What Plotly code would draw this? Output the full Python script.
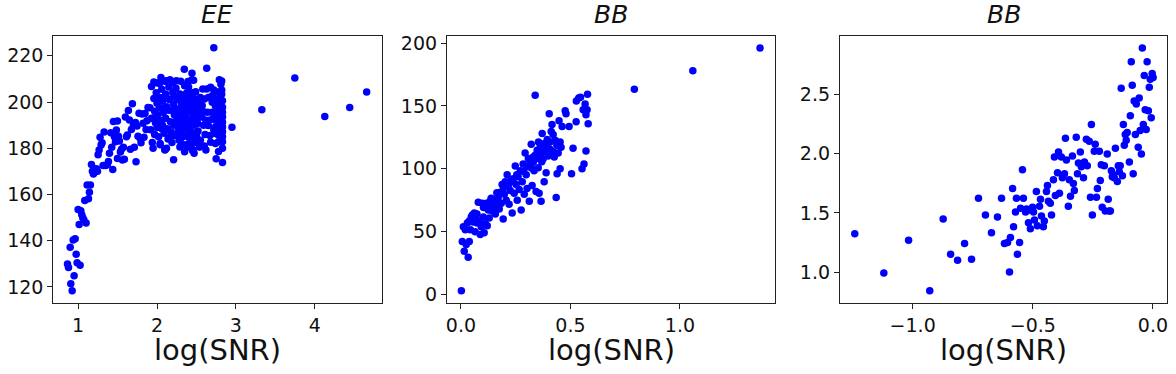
import plotly.graph_objects as go
from plotly.subplots import make_subplots

# ---- panel 1 (EE) : low-SNR branch + dense cluster + far outliers
ee_points = [
    (0.865, 129.9), (0.878, 128.4), (0.899, 137.2), (0.907, 121.4), (0.924, 118.4),
    (0.937, 140.3), (0.949, 124.8), (0.962, 140.9), (0.975, 134.2), (0.987, 130.5),
    (1.000, 153.5), (1.013, 147.0), (1.025, 129.4), (1.034, 153.0), (1.046, 151.2),
    (1.059, 149.9), (1.072, 149.1), (1.084, 157.4), (1.101, 147.7), (1.114, 164.1),
    (1.131, 158.2), (1.143, 161.0), (1.156, 164.1), (1.169, 173.0), (1.181, 170.1),
    (1.194, 168.9), (1.207, 171.1), (1.219, 169.8), (1.232, 171.1), (1.245, 170.1),
    (1.253, 177.2), (1.266, 179.3), (1.278, 184.8), (1.291, 181.4), (1.304, 182.4),
    (1.316, 172.6), (1.329, 187.0), (1.350, 172.6), (1.371, 173.0), (1.384, 174.3),
    (1.397, 177.9), (1.414, 186.7), (1.426, 180.4), (1.439, 170.8), (1.447, 191.6),
    (1.460, 185.0), (1.473, 182.8), (1.485, 187.9), (1.498, 191.8), (1.498, 175.6),
    (1.511, 185.2), (1.523, 183.1), (1.536, 178.4), (1.549, 179.6), (1.561, 174.9),
    (1.574, 180.4), (1.586, 175.3), (1.599, 193.5), (1.612, 185.0), (1.624, 185.7),
    (1.637, 196.3), (1.650, 192.2), (1.662, 179.6), (1.675, 188.1), (1.688, 199.3),
    (1.700, 189.9), (1.713, 180.4), (1.726, 191.1), (1.734, 174.2), (1.747, 189.6),
    (1.759, 185.2), (1.772, 195.2), (1.785, 184.3), (1.797, 182.4), (1.810, 194.8),
    (1.823, 190.8), (1.835, 184.8), (1.848, 195.0), (1.861, 188.1), (1.873, 191.9),
    (1.886, 197.6),
    (1.91, 197.5), (1.93, 193.0), (1.92, 188.0), (1.94, 182.5), (1.95, 180.0),
    (1.96, 201.5), (1.97, 196.0), (1.98, 191.0), (1.97, 186.0), (1.99, 204.0),
    (2.00, 199.5), (2.01, 194.5), (2.00, 189.0), (2.02, 185.0), (2.03, 208.0),
    (2.04, 202.0), (2.03, 197.5), (2.05, 192.0), (2.04, 181.5), (2.06, 205.5),
    (2.07, 200.5), (2.08, 195.5), (2.07, 190.0), (2.09, 186.5), (2.10, 179.5),
    (2.10, 209.0), (2.11, 203.5), (2.12, 198.0), (2.11, 193.0), (2.13, 188.5),
    (2.14, 184.0), (2.15, 206.5), (2.16, 201.0), (2.15, 196.5), (2.17, 191.5),
    (2.18, 187.0), (2.19, 182.5), (2.20, 208.5), (2.20, 204.0), (2.21, 199.0),
    (2.22, 194.5), (2.21, 190.0), (2.23, 185.5), (2.21, 175.0), (2.24, 206.0),
    (2.25, 201.5), (2.26, 197.0), (2.25, 192.5), (2.27, 188.0), (2.28, 183.5),
    (2.29, 180.5), (2.30, 209.0), (2.29, 203.5), (2.31, 199.5), (2.32, 195.0),
    (2.31, 190.5), (2.33, 186.0), (2.34, 181.5), (2.35, 178.5), (2.35, 207.0),
    (2.36, 202.0), (2.37, 198.0), (2.36, 193.5), (2.38, 189.0), (2.39, 185.0),
    (2.40, 182.0), (2.40, 206.5), (2.41, 200.5), (2.42, 196.0), (2.41, 191.5),
    (2.43, 187.0), (2.44, 183.0), (2.45, 179.0), (2.44, 209.5), (2.45, 204.0),
    (2.46, 199.0), (2.47, 194.5), (2.46, 190.0), (2.48, 186.0), (2.49, 182.5),
    (2.50, 197.0), (2.51, 191.5), (2.52, 187.5), (2.53, 183.5), (2.54, 180.5),
    (2.55, 202.0), (2.56, 195.0), (2.57, 198.5), (2.58, 205.7), (2.59, 190.0),
    (2.60, 201.3), (2.61, 186.0), (2.62, 179.3), (2.63, 214.6), (2.63, 205.7),
    (2.64, 195.6), (2.65, 189.9), (2.66, 192.1), (2.68, 206.4), (2.68, 182.6),
    (2.70, 202.7), (2.70, 199.9), (2.70, 195.6), (2.72, 223.5), (2.72, 205.2),
    (2.74, 201.3), (2.74, 198.4), (2.74, 195.6), (2.74, 192.1), (2.74, 189.2),
    (2.74, 186.4), (2.74, 182.1), (2.75, 175.5), (2.76, 204.4), (2.78, 199.9),
    (2.78, 197.0), (2.78, 194.2), (2.78, 191.3), (2.78, 188.5), (2.78, 185.7),
    (2.78, 182.8), (2.78, 178.6), (2.79, 209.6), (2.81, 207.7), (2.82, 209.1),
    (2.82, 205.2), (2.82, 203.4), (2.83, 200.6), (2.83, 197.7), (2.83, 195.6),
    (2.83, 193.5), (2.83, 191.3), (2.83, 189.2), (2.83, 187.1), (2.83, 185.0),
    (2.83, 182.8), (2.83, 180.0), (2.83, 173.8),
    (2.05, 210.6), (1.96, 208.7), (2.165, 209.6), (2.245, 209.2), (2.346, 214.2),
    (2.443, 212.5), (2.464, 209.4), (2.392, 208.9), (1.93, 206.7), (2.11, 209.2),
    (1.99, 208.4), (2.04, 182.1), (2.10, 179.3), (2.12, 180.0), (2.47, 177.9),
    (2.46, 179.3), (2.54, 180.7), (2.55, 183.5), (2.49, 197.0), (2.51, 187.1),
    (2.51, 190.6), (2.57, 193.5), (2.57, 198.4), (2.62, 192.1), (2.60, 181.0),
    (2.22, 202.5), (2.24, 196.0), (2.26, 190.5), (2.28, 201.0), (2.30, 193.0),
    (2.32, 188.0), (2.33, 203.0), (2.34, 197.0), (2.36, 185.5), (2.37, 195.5),
    (2.38, 200.0), (2.39, 191.0), (2.40, 197.5), (2.41, 188.0), (2.42, 184.5),
    (2.43, 203.0), (2.44, 193.0), (2.45, 186.5), (2.46, 196.5), (2.47, 201.5),
    (2.48, 190.5), (2.49, 204.5), (2.50, 185.5), (2.43, 199.0), (2.45, 191.0),
    (2.38, 204.0), (2.35, 191.0), (2.27, 194.0), (2.19, 196.5), (2.17, 185.0),
    (2.13, 201.5), (2.09, 197.5), (2.06, 188.5), (2.02, 200.0), (1.98, 193.5),
    (2.26, 186.0), (2.31, 184.5), (2.39, 180.5), (2.43, 181.0), (2.47, 184.0),
    (2.52, 194.0), (2.53, 199.5), (2.58, 196.0), (2.65, 202.0), (2.67, 185.5),
    (2.72, 188.0), (2.71, 193.0), (2.76, 196.5), (2.80, 202.0), (2.80, 190.0),
    (2.81, 184.0), (2.80, 194.5),
    (2.95, 189.1), (3.329, 196.7), (3.747, 210.4), (4.127, 193.8), (4.443, 197.6),
    (4.658, 204.4),
]

# ---- panel 2 (BB)
bb1_points = [
    (0.002, 3.1), (0.006, 42.2), (0.011, 53.9), (0.015, 34.4), (0.020, 51.6),
    (0.024, 39.8), (0.029, 57.0), (0.033, 29.7), (0.038, 42.2), (0.038, 58.6),
    (0.043, 51.6), (0.047, 61.7), (0.052, 63.3), (0.056, 57.8), (0.061, 64.8),
    (0.065, 50.0), (0.070, 60.2), (0.074, 57.0), (0.079, 73.4), (0.084, 57.8),
    (0.088, 47.7), (0.093, 53.9), (0.097, 72.7), (0.102, 61.7), (0.106, 49.2),
    (0.111, 56.3), (0.116, 72.7), (0.120, 54.7), (0.125, 67.2), (0.129, 60.9),
    (0.134, 71.1), (0.138, 76.6), (0.143, 66.4), (0.147, 74.2), (0.152, 68.8),
    (0.157, 64.1), (0.161, 75.8), (0.166, 71.1), (0.170, 77.3), (0.175, 68.0),
    (0.179, 81.3), (0.184, 72.7), (0.188, 87.5), (0.193, 60.2), (0.198, 79.7),
    (0.202, 89.8), (0.207, 75.0), (0.211, 95.3), (0.216, 86.7), (0.220, 71.9),
    (0.225, 82.8), (0.230, 89.8), (0.234, 64.8), (0.239, 92.2), (0.243, 80.5),
    (0.248, 102.3), (0.252, 87.5), (0.257, 75.0), (0.261, 93.8), (0.266, 83.6),
    (0.271, 98.4), (0.275, 67.2), (0.280, 89.8), (0.284, 103.9), (0.289, 79.7),
    (0.293, 112.5), (0.298, 95.3), (0.302, 84.4), (0.307, 101.6), (0.312, 74.2),
    (0.316, 106.3), (0.321, 119.5), (0.325, 86.7), (0.330, 109.4), (0.334, 98.4),
    (0.339, 158.6), (0.343, 82.0), (0.348, 114.8), (0.353, 100.8), (0.357, 80.5),
    (0.362, 117.2), (0.366, 74.2), (0.371, 128.1), (0.375, 107.8), (0.380, 89.8),
    (0.384, 120.3), (0.389, 96.9), (0.394, 123.4), (0.398, 110.2), (0.403, 143.8),
    (0.407, 115.6), (0.412, 129.7), (0.416, 135.2), (0.421, 127.3), (0.426, 109.4),
    (0.430, 122.7), (0.435, 77.3), (0.439, 96.1), (0.444, 112.5), (0.448, 138.3),
    (0.453, 100.0), (0.457, 117.2), (0.462, 133.6), (0.476, 146.1), (0.480, 143.8),
    (0.494, 133.6), (0.505, 96.1), (0.512, 116.4), (0.526, 137.5), (0.527, 153.9),
    (0.538, 156.3), (0.546, 157.0), (0.553, 100.0), (0.558, 146.9), (0.562, 103.9),
    (0.567, 151.6), (0.571, 114.1), (0.571, 143.0), (0.576, 146.9), (0.578, 159.4),
    (0.581, 135.9), (0.792, 163.3), (1.059, 178.1), (1.366, 196.1),
    (0.316, 103.1), (0.331, 105.7), (0.347, 108.3), (0.362, 110.9), (0.377, 113.5),
    (0.354, 121.4), (0.339, 110.9), (0.324, 100.5), (0.369, 105.7), (0.392, 118.8),
    (0.407, 121.4), (0.438, 118.8), (0.453, 121.4), (0.286, 97.9), (0.301, 101.8),
    (0.255, 95.3), (0.225, 90.1), (0.195, 84.9), (0.164, 81.0), (0.134, 74.5),
    (0.103, 69.3), (0.073, 64.1), (0.308, 108.3), (0.385, 114.8), (0.422, 113.5),
]

# ---- panel 3 (BB)
bb2_points = [
    (-1.241, 1.324), (-1.120, 0.992), (-1.017, 1.269), (-0.929, 0.842), (-0.873, 1.449),
    (-0.842, 1.150), (-0.813, 1.100), (-0.784, 1.241), (-0.755, 1.108), (-0.726, 1.623),
    (-0.697, 1.482), (-0.672, 1.332), (-0.647, 1.465), (-0.630, 1.623), (-0.618, 1.241),
    (-0.605, 1.249), (-0.597, 1.000), (-0.593, 1.291), (-0.584, 1.706), (-0.580, 1.382),
    (-0.572, 1.507), (-0.568, 1.623), (-0.564, 1.150), (-0.555, 1.249), (-0.551, 1.540),
    (-0.543, 1.864), (-0.539, 1.623), (-0.530, 1.507), (-0.526, 1.532), (-0.518, 1.416),
    (-0.514, 1.524), (-0.510, 1.366), (-0.501, 1.548), (-0.497, 1.507), (-0.493, 1.440),
    (-0.485, 1.681), (-0.481, 1.391), (-0.472, 1.557), (-0.468, 1.615), (-0.464, 1.474),
    (-0.456, 1.382), (-0.452, 1.432), (-0.443, 1.681), (-0.439, 1.731), (-0.435, 1.598),
    (-0.427, 1.582), (-0.422, 1.482), (-0.414, 1.781), (-0.410, 1.972), (-0.406, 1.648),
    (-0.397, 1.839), (-0.393, 2.014), (-0.389, 1.665), (-0.381, 1.972), (-0.377, 1.798),
    (-0.368, 1.831), (-0.364, 2.130), (-0.360, 1.947), (-0.352, 1.557), (-0.348, 1.781),
    (-0.343, 1.640), (-0.335, 1.981), (-0.331, 1.748), (-0.327, 1.690), (-0.319, 2.139),
    (-0.314, 1.831), (-0.310, 1.922), (-0.302, 2.014), (-0.298, 1.889), (-0.294, 1.906),
    (-0.289, 1.798), (-0.285, 1.931), (-0.277, 2.122), (-0.273, 1.898), (-0.265, 2.105),
    (-0.260, 1.632), (-0.256, 2.247), (-0.252, 1.482), (-0.244, 2.022), (-0.240, 2.080),
    (-0.235, 1.632), (-0.231, 1.706), (-0.223, 2.022), (-0.219, 1.773), (-0.215, 1.906),
    (-0.211, 1.548), (-0.202, 1.898), (-0.198, 1.515), (-0.190, 1.997), (-0.186, 1.615),
    (-0.181, 1.515), (-0.177, 1.515), (-0.173, 1.856), (-0.169, 1.806), (-0.165, 1.823),
    (-0.161, 1.798), (-0.156, 2.047), (-0.148, 1.765), (-0.144, 1.898), (-0.140, 1.848),
    (-0.136, 1.898), (-0.132, 2.554), (-0.127, 1.814), (-0.123, 2.247), (-0.119, 2.072),
    (-0.115, 2.163), (-0.111, 2.114), (-0.107, 2.180), (-0.098, 1.931), (-0.094, 2.321),
    (-0.090, 2.778), (-0.086, 2.579), (-0.082, 1.831), (-0.078, 2.446), (-0.073, 2.163),
    (-0.069, 2.421), (-0.061, 2.055), (-0.057, 2.471), (-0.053, 2.197), (-0.048, 1.997),
    (-0.044, 2.895), (-0.040, 2.247), (-0.036, 2.662), (-0.032, 2.371), (-0.028, 2.205),
    (-0.024, 2.778), (-0.019, 2.363), (-0.015, 2.562), (-0.011, 2.629), (-0.007, 2.305),
    (-0.003, 2.679), (0.001, 2.645),
]

titles = ["EE", "BB", "BB"]
xlabel = "log(SNR)"

FONT = "DejaVu Sans"
W, H = 1176, 374

fig = make_subplots(rows=1, cols=3)

for i, pts in enumerate([ee_points, bb1_points, bb2_points]):
    xs = [p[0] for p in pts]
    ys = [p[1] for p in pts]
    fig.add_trace(go.Scatter(x=xs, y=ys, mode="markers",
                             marker=dict(color="#0000ff", size=7.5, line=dict(width=0)),
                             showlegend=False), row=1, col=i + 1)

# pixel boxes of the three axes
boxes = [(52.3, 381.3), (446.7, 775.7), (840.3, 1168.3)]
ytop, ybot = 32.7, 304.0
xranges = [[0.684, 4.848], [-0.064, 1.436], [-1.303, 0.060]]
yranges = [[113.0, 228.5], [-6.8, 205.5], [0.737, 2.994]]
xticks = [dict(dtick=1, tickformat="d"), dict(dtick=0.5, tickformat=".1f"), dict(dtick=0.5, tickformat=".1f")]
yticks = [dict(dtick=20, tickformat="d"), dict(dtick=50, tickformat="d"), dict(dtick=0.5, tickformat=".1f")]

axis_style = dict(showgrid=False, zeroline=False, showline=True, mirror=True,
                  linecolor="#222222", linewidth=1, ticks="outside", ticklen=5,
                  tickcolor="#222222", tickfont=dict(family=FONT, size=19, color="#111111"))

annotations = []
for i in range(3):
    x0, x1 = boxes[i]
    sfx = "" if i == 0 else str(i + 1)
    fig.layout["xaxis" + sfx].update(domain=[x0 / W, x1 / W], range=xranges[i],
                                     tick0=0, **xticks[i], **axis_style)
    fig.layout["yaxis" + sfx].update(domain=[1 - ybot / H, 1 - ytop / H], range=yranges[i],
                                     tick0=0, **yticks[i], **axis_style)
    cx = (x0 + x1) / 2 / W
    annotations.append(dict(text="<i>" + titles[i] + "</i>", x=cx, y=1 - 11 / H,
                            xref="paper", yref="paper", showarrow=False,
                            xanchor="center", yanchor="middle",
                            font=dict(family=FONT, size=25, color="#111111")))
    annotations.append(dict(text=xlabel, x=cx, y=1 - 352 / H,
                            xref="paper", yref="paper", showarrow=False,
                            xanchor="center", yanchor="middle",
                            font=dict(family=FONT, size=29, color="#111111")))

fig.update_layout(width=W, height=H, margin=dict(l=0, r=0, t=0, b=0),
                  plot_bgcolor="white", paper_bgcolor="white",
                  annotations=annotations)

fig.write_html("out.html", config={"displayModeBar": False},
               post_script="document.body.style.margin='0px';")
